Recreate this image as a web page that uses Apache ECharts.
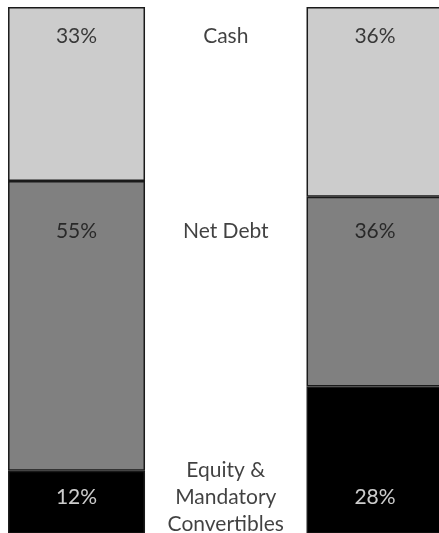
<!DOCTYPE html>
<html>
<head>
<meta charset="utf-8">
<script src="https://cdn.jsdelivr.net/npm/echarts@6/dist/echarts.min.js"></script>
<style>
html, body { margin: 0; padding: 0; background: #fff; }
#chart { width: 439px; height: 533px; }
</style>
</head>
<body>
<div id="chart"></div>
<script>
// stacked shares, left bar / label column / right bar
var categories = ['Before', 'Labels', 'After'];
var equity = [12, '-', 28];
var netDebt = [55, '-', 36];
var cash = [33, '-', 36];
var rowNames = ['Cash', 'Net Debt', 'Equity &\nMandatory\nConvertibles'];
var rowPos = [94.5, 57.5, 7]; // label rows, in axis units

var fontFamily = 'Lato, "Open Sans", sans-serif';
var edge = '#1a1a1a';

function barSeries(name, data, color) {
	return {
		name: name,
		type: 'bar',
		stack: 'total',
		barWidth: 137,
		data: data,
		itemStyle: { color: color, borderColor: edge, borderWidth: 1.5 },
		silent: true
	}
}

// percentage labels on the two bars, same rows as the middle names
function pctSeries(idx) {
	var vals = [cash[idx], netDebt[idx], equity[idx]];
	var pts = [];
	for (var i = 0; i < vals.length; i++) {
		pts.push({
			value: [idx, rowPos[i]],
			label: { formatter: vals[i] + '%', color: i == 2 ? '#fff' : '#111' }
		})
	}
	return {
		type: 'scatter',
		symbolSize: 0,
		data: pts,
		label: { show: true, position: 'inside', fontSize: 21, fontFamily: fontFamily },
		silent: true,
		z: 5
	}
}

var names = [];
for (var i = 0; i < rowNames.length; i++) {
	names.push({ value: [1, rowPos[i]], label: { formatter: rowNames[i] } });
}

var myChart = echarts.init(document.getElementById('chart'));
myChart.setOption({
	animation: false,
	grid: { left: 1.9, top: 7, width: 447.75, height: 527, outerBoundsMode: 'none', containLabel: false },
	xAxis: { type: 'category', data: categories, show: false },
	yAxis: { type: 'value', min: 0, max: 100, show: false },
	series: [
		barSeries('Equity & Mandatory Convertibles', equity, '#000000'),
		barSeries('Net Debt', netDebt, '#808080'),
		barSeries('Cash', cash, '#cccccc'),
		pctSeries(0),
		pctSeries(2),
		{
			type: 'scatter',
			symbolSize: 0,
			data: names,
			label: {
				show: true, position: 'inside', fontSize: 21, lineHeight: 27,
				fontFamily: fontFamily, color: '#111', align: 'center'
			},
			silent: true,
			z: 5
		}
	]
});
</script>
</body>
</html>
